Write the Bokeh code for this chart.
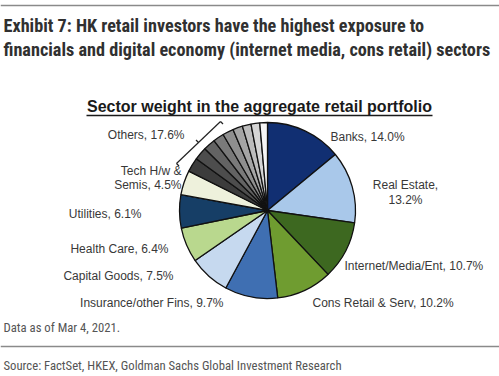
import math
from bokeh.plotting import figure
from bokeh.models import Range1d, Label, ColumnDataSource
from bokeh.embed import file_html
from bokeh.resources import INLINE

W, H = 499, 376

# ---- data ----
sectors = ["Banks", "Real Estate", "Internet/Media/Ent", "Cons Retail & Serv",
           "Insurance/other Fins", "Capital Goods", "Health Care", "Utilities",
           "Tech H/w & Semis"]
weights = [14.0, 13.2, 10.7, 10.2, 9.7, 7.5, 6.4, 6.1, 4.5]
sector_colors = ["#112f72", "#a9c8ea", "#3d6820", "#6f9c30", "#3f6fb2",
                 "#c6d9ef", "#b9d88e", "#163e66", "#eef1dc"]
others_total = 17.6
others_parts = [2.6, 2.4, 2.2, 2.0, 2.0, 1.8, 1.6, 1.6, 1.4]
others_colors = ["#3c3c3c", "#4d4d4d", "#636363", "#7a7a7a", "#8f8f8f",
                 "#a5a5a5", "#bcbcbc", "#d5d5d5", "#f6f6f6"]

title1 = "Exhibit 7: HK retail investors have the highest exposure to"
title2 = "financials and digital economy (internet media, cons retail) sectors"
subtitle = "Sector weight in the aggregate retail portfolio"
note = "Data as of Mar 4, 2021."
source = "Source: FactSet, HKEX, Goldman Sachs Global Investment Research"

p = figure(width=W, height=H, x_range=Range1d(0, W), y_range=Range1d(0, H),
           toolbar_location=None, output_backend="svg", min_border=0)
p.axis.visible = False
p.grid.visible = False
p.outline_line_color = None
p.background_fill_color = "#ffffff"

def Y(py):
    return H - py

cx, cy, r = 267, Y(210), 88

vals = weights + others_parts
cols = sector_colors + others_colors
total = sum(vals)
starts, ends = [], []
acc = 0.0
for v in vals:
    a0 = math.pi / 2 - 2 * math.pi * acc / total
    acc += v
    a1 = math.pi / 2 - 2 * math.pi * acc / total
    starts.append(a0)
    ends.append(a1)
src = ColumnDataSource(dict(x=[cx] * len(vals), y=[cy] * len(vals),
                            start=starts, end=ends, color=cols))
p.wedge(x="x", y="y", radius=r, radius_units="screen", start_angle="start",
        end_angle="end", direction="clock", fill_color="color",
        line_color="#111111", line_width=1.3, source=src)

# top / separator rules
p.segment(x0=[0, 0], y0=[Y(5), Y(346)], x1=[W, W], y1=[Y(5), Y(346)],
          line_color="#8a8a8a", line_width=1.5)

cond = "Roboto Condensed"
arial = "Liberation Sans"

def lab(txt, x, py, size, font, color="#333333", style="normal", align="left"):
    p.add_layout(Label(x=x, y=Y(py), text=txt, text_font=font,
                       text_font_size=size, text_color=color,
                       text_font_style=style, text_align=align,
                       text_baseline="middle"))

lab(title1, 3, 25, "18.2px", cond, "#303030", "bold")
lab(title2, 3, 49, "18.2px", cond, "#303030", "bold")
lab(subtitle, 259, 106, "16px", arial, "#1a1a1a", "bold", "center")
p.segment(x0=[86], y0=[Y(115)], x1=[432], y1=[Y(115)], line_color="#1a1a1a", line_width=1.5)

fs = "12px"
lc = "#383838"
lab("Others, " + f"{others_total:.1f}%", 184, 134, fs, arial, lc, align="right")
lab("Banks, " + f"{weights[0]:.1f}%", 330, 136, fs, arial, lc)
lab("Real Estate,", 405, 184, fs, arial, lc, align="center")
lab(f"{weights[1]:.1f}%", 405, 199, fs, arial, lc, align="center")
lab("Internet/Media/Ent, " + f"{weights[2]:.1f}%", 344, 265, fs, arial, lc)
lab("Cons Retail & Serv, " + f"{weights[3]:.1f}%", 312, 302, fs, arial, lc)
lab("Insurance/other Fins, " + f"{weights[4]:.1f}%", 223, 302, fs, arial, lc, align="right")
lab("Capital Goods, " + f"{weights[5]:.1f}%", 173, 275, fs, arial, lc, align="right")
lab("Health Care, " + f"{weights[6]:.1f}%", 168, 248, fs, arial, lc, align="right")
lab("Utilities, " + f"{weights[7]:.1f}%", 141, 213, fs, arial, lc, align="right")
lab("Tech H/w &", 181, 170, fs, arial, lc, align="right")
lab("Semis, " + f"{weights[8]:.1f}%", 181, 184, fs, arial, lc, align="right")

# bracket line for Others
bx0, by0, bx1, by1 = 176, 163, 220, 121
p.line(x=[bx0, bx1], y=[Y(by0), Y(by1)], line_color="#222222", line_width=1.2)
mx, my = (bx0 + bx1) / 2, (by0 + by1) / 2
p.segment(x0=[bx0, bx1, mx], y0=[Y(by0), Y(by1), Y(my)],
          x1=[bx0 + 2.5, bx1 + 2.5, mx - 2.5], y1=[Y(by0 + 2.5), Y(by1 + 2.5), Y(my - 2.5)],
          line_color="#222222", line_width=1.2)

lab(note, 3, 327, "12.7px", cond, "#555555")
lab(source, 3, 365, "12.7px", cond, "#555555")

open("out.html", "w").write(file_html(p, INLINE))
